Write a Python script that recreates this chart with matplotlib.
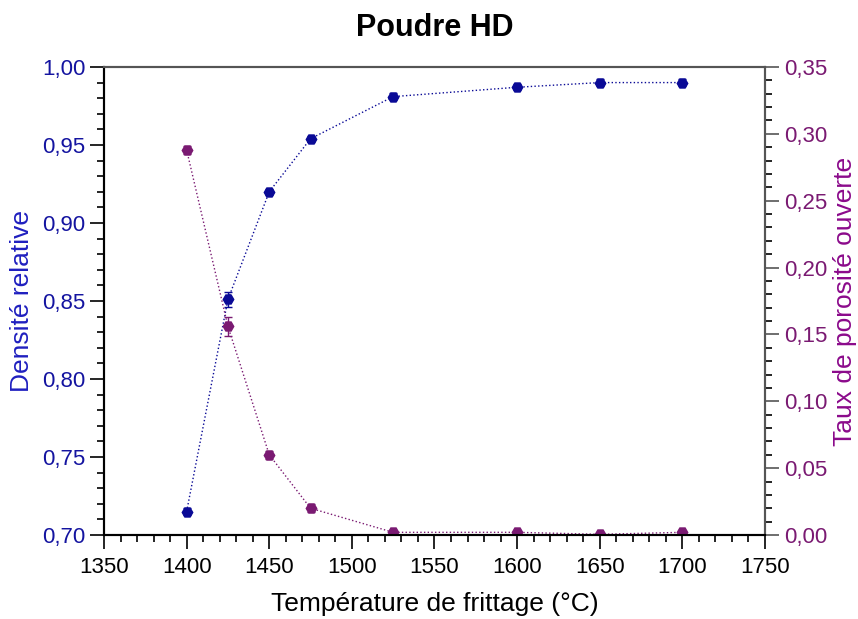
import matplotlib
matplotlib.use("Agg")
import matplotlib.pyplot as plt
from matplotlib.ticker import MultipleLocator, FuncFormatter

plt.rcParams['font.family'] = ['Liberation Sans', 'DejaVu Sans']

temperature = [1400, 1425, 1450, 1475, 1525, 1600, 1650, 1700]
densite = [0.715, 0.851, 0.920, 0.954, 0.981, 0.987, 0.990, 0.990]
densite_err = [0.002, 0.005, 0.002, 0.002, 0.002, 0.002, 0.002, 0.002]
porosite = [0.288, 0.156, 0.060, 0.020, 0.002, 0.002, 0.0005, 0.002]
porosite_err = [0.003, 0.007, 0.003, 0.003, 0.001, 0.001, 0.001, 0.001]

blue = "#0a0a96"
purple = "#7a1a72"

comma = FuncFormatter(lambda v, p: f"{v:.2f}".replace(".", ","))

fig = plt.figure(figsize=(8.58, 6.19), dpi=100)
ax = fig.add_axes([0.1212, 0.1357, 0.7704, 0.7561])
ax2 = ax.twinx()

ax.errorbar(temperature, densite, yerr=densite_err, color=blue, ls=":", lw=1,
            marker="H", ms=7.5, capsize=3, elinewidth=1, capthick=1)
ax2.errorbar(temperature, porosite, yerr=porosite_err, color=purple, ls=":", lw=1,
             marker="H", ms=7.5, capsize=3, elinewidth=1, capthick=1)

ax.set_xlim(1350, 1750)
ax.set_ylim(0.70, 1.00)
ax2.set_ylim(0, 0.35)

ax.xaxis.set_major_locator(MultipleLocator(50))
ax.xaxis.set_minor_locator(MultipleLocator(10))
ax.yaxis.set_major_locator(MultipleLocator(0.05))
ax.yaxis.set_minor_locator(MultipleLocator(0.01))
ax2.yaxis.set_major_locator(MultipleLocator(0.05))
ax2.yaxis.set_minor_locator(MultipleLocator(0.01))
ax.yaxis.set_major_formatter(comma)
ax2.yaxis.set_major_formatter(comma)

for a in (ax, ax2):
    a.tick_params(which="major", length=10, width=1.2, direction="out", labelsize=16)
    a.tick_params(which="minor", length=5, width=1.2, direction="out")
    for s in ("top", "right"):
        a.spines[s].set_color("#555555")
        a.spines[s].set_linewidth(1.5)
    for s in ("left", "bottom"):
        a.spines[s].set_linewidth(1.5)
ax.tick_params(axis="x", pad=6)
ax.tick_params(axis="y", labelcolor="#1414a0")
ax2.tick_params(axis="y", labelcolor=purple, colors="#555555")
ax2.tick_params(axis="y", labelcolor=purple)

ax.set_xlabel("Température de frittage (°C)", fontsize=19, labelpad=10)
ax.set_ylabel("Densité relative", fontsize=19, color="#1f1fbf", labelpad=6)
ax2.set_ylabel("Taux de porosité ouverte", fontsize=19, color="#8b0a8b", labelpad=4)
ax.set_title("Poudre HD", fontsize=22, fontweight="bold", pad=22)

fig.savefig("out.png", dpi=100)
